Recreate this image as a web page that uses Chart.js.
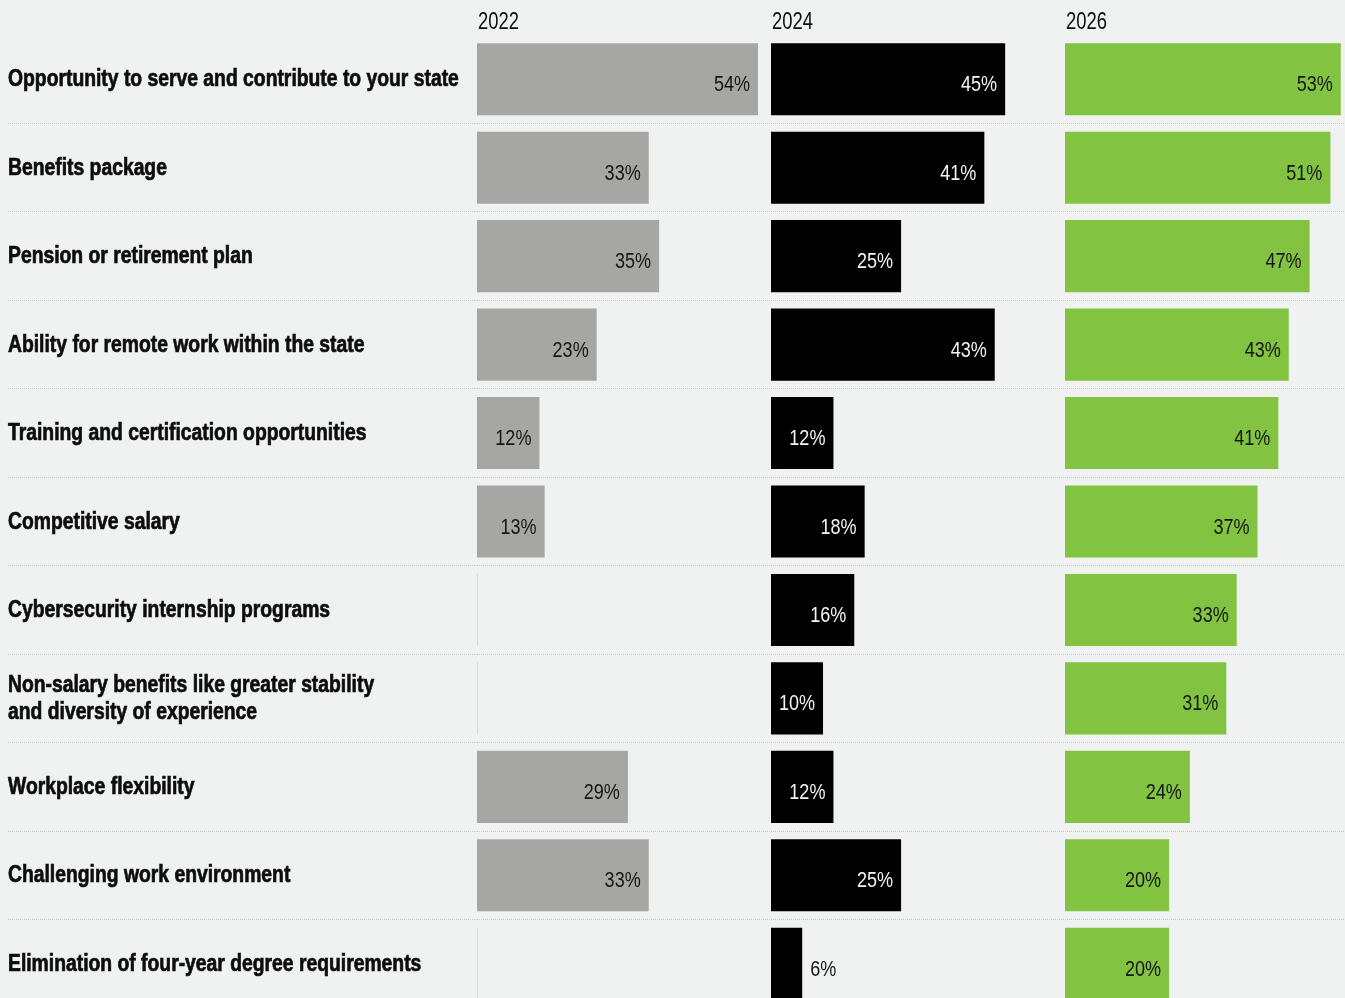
<!DOCTYPE html>
<html>
<head>
<meta charset="utf-8">
<title>Why work for the state</title>
<script src="https://cdn.jsdelivr.net/npm/chart.js@4.4.1/dist/chart.umd.min.js"></script>
<style>
  html,
  body {
    margin: 0;
    padding: 0;
    background: #f0f2f1;
    overflow: hidden;
  }
  #wrap {
    width: 1359px;
    height: 1008px;
  }
</style>
</head>
<body>
<div id="wrap"><canvas id="reasonsChart"></canvas></div>
<script>
const categories = [
  "Opportunity to serve and contribute to your state",
  "Benefits package",
  "Pension or retirement plan",
  "Ability for remote work within the state",
  "Training and certification opportunities",
  "Competitive salary",
  "Cybersecurity internship programs",
  ["Non-salary benefits like greater stability", "and diversity of experience"],
  "Workplace flexibility",
  "Challenging work environment",
  "Elimination of four-year degree requirements",
];

const years = ["2022", "2024", "2026"];

// null = not asked that year
const values2022 = [54, 33, 35, 23, 12, 13, null, null, 29, 33, null];
const values2024 = [45, 41, 25, 43, 12, 18, 16, 10, 12, 25, 6];
const values2026 = [53, 51, 47, 43, 41, 37, 33, 31, 24, 20, 20];

const barColors = ["#a6a6a4", "#000000", "#82c341"];
const valueColors = ["#151515", "#f4f4f4", "#151515"];

const SANS = "'Liberation Sans', Arial, sans-serif";
const BAR_PCT = 0.815;
const AXIS_MAX = 56.5;
// no narrow face installed, so text is squeezed horizontally
const LABEL_STRETCH = 0.84;
const NUMBER_STRETCH = 0.82;

function fillCondensed(ctx, text, x, y, stretch, align, heavy) {
  ctx.save();
  ctx.translate(x, y);
  ctx.scale(stretch, 1);
  ctx.textAlign = align;
  ctx.fillText(text, 0, 0);
  if (heavy) {
    // a thin outline makes the bold face look blacker
    ctx.lineWidth = 0.7;
    ctx.strokeStyle = ctx.fillStyle;
    ctx.strokeText(text, 0, 0);
  }
  ctx.restore();
}

// Percent labels at the end of each bar (inside when they fit)
const valueLabelPlugin = {
  id: "valueLabels",
  afterDatasetsDraw(chart) {
    const ctx = chart.ctx;
    ctx.save();
    ctx.font = "22px " + SANS;
    ctx.textBaseline = "alphabetic";
    chart.data.datasets.forEach((ds, di) => {
      const meta = chart.getDatasetMeta(di);
      meta.data.forEach((bar, i) => {
        const v = ds.data[i];
        if (v === null || v === undefined) return;
        const { x, y, base } = bar.getProps(["x", "y", "base"], true);
        const text = v + "%";
        const w = ctx.measureText(text).width * NUMBER_STRETCH;
        if (x - base >= w + 12) {
          ctx.fillStyle = valueColors[di];
          fillCondensed(ctx, text, x - 8, y + 12, NUMBER_STRETCH, "right");
        } else {
          ctx.fillStyle = "#151515";
          fillCondensed(ctx, text, x + 8, y + 12, NUMBER_STRETCH, "left");
        }
      });
    });
    ctx.restore();
  },
};

// Category names on the left and the year heading over each panel
const textPlugin = {
  id: "rowText",
  afterDraw(chart) {
    const ctx = chart.ctx;
    const yScale = chart.scales.y;
    ctx.save();
    ctx.textBaseline = "alphabetic";
    ctx.fillStyle = "#0d0d0d";

    ctx.font = "bold 23px " + SANS;
    categories.forEach((label, i) => {
      const lines = Array.isArray(label) ? label : [label];
      const yc = yScale.getPixelForValue(i);
      lines.forEach((line, k) => {
        const yy = yc + 7 + (k - (lines.length - 1) / 2) * 27;
        fillCondensed(ctx, line, yScale.left, yy, LABEL_STRETCH, "left", true);
      });
    });

    ctx.font = "23px " + SANS;
    years.forEach((year) => {
      const xScale = chart.scales["x" + year];
      fillCondensed(ctx, year, xScale.left + 1, 29, 0.8, "left");
    });
    ctx.restore();
  },
};

// Thin zero line where a year has no value
const emptyStubPlugin = {
  id: "emptyStubs",
  beforeDatasetsDraw(chart) {
    const ctx = chart.ctx;
    const yScale = chart.scales.y;
    const band = Math.abs(yScale.getPixelForValue(1) - yScale.getPixelForValue(0));
    const half = (band * BAR_PCT) / 2;
    ctx.save();
    ctx.strokeStyle = "#dadada";
    ctx.lineWidth = 1;
    chart.data.datasets.forEach((ds) => {
      const xScale = chart.scales[ds.xAxisID];
      const x0 = Math.round(xScale.getPixelForValue(0)) + 0.5;
      ds.data.forEach((v, i) => {
        if (v !== null) return;
        const yc = yScale.getPixelForValue(i);
        ctx.beginPath();
        ctx.moveTo(x0, yc - half);
        ctx.lineTo(x0, yc + half);
        ctx.stroke();
      });
    });
    ctx.restore();
  },
};

function yearAxis() {
  return {
    type: "linear",
    position: "top",
    stack: "years",
    stackWeight: 1,
    min: 0,
    max: AXIS_MAX,
    grid: { display: false },
    border: { display: false },
    ticks: { display: false },
    afterFit: (scale) => {
      scale.height = 35;
    },
  };
}

const seriesValues = [values2022, values2024, values2026];

const datasets = seriesValues.map((vals, i) => ({
  label: years[i],
  data: vals,
  xAxisID: "x" + years[i],
  backgroundColor: barColors[i],
  borderWidth: 0,
  grouped: false,
  barPercentage: BAR_PCT,
  categoryPercentage: 1,
}));

const separatorColor = (c) => (c.index === 0 ? "rgba(0,0,0,0)" : "#c9cbca");

new Chart(document.getElementById("reasonsChart"), {
  type: "bar",
  data: {
    labels: categories,
    datasets: datasets,
  },
  plugins: [emptyStubPlugin, valueLabelPlugin, textPlugin],
  options: {
    indexAxis: "y",
    responsive: true,
    maintainAspectRatio: false,
    animation: false,
    layout: { padding: { left: 8, top: 0, right: 0, bottom: 0 } },
    scales: {
      // top boxes are laid out last-first, so list the panels in reverse
      x2026: yearAxis(),
      x2024: yearAxis(),
      x2022: yearAxis(),
      y: {
        type: "category",
        position: "left",
        offset: true,
        grid: {
          display: true,
          offset: true,
          color: separatorColor,
          tickColor: separatorColor,
          lineWidth: 1,
          tickWidth: 1,
          drawTicks: true,
          tickLength: 469,
          tickBorderDash: [1, 1],
        },
        border: { display: false, dash: [1, 1] },
        ticks: { display: false },
        afterFit: (scale) => {
          scale.width = 469;
        },
      },
    },
    plugins: {
      legend: { display: false },
      tooltip: { enabled: false },
    },
  },
});
</script>
</body>
</html>
